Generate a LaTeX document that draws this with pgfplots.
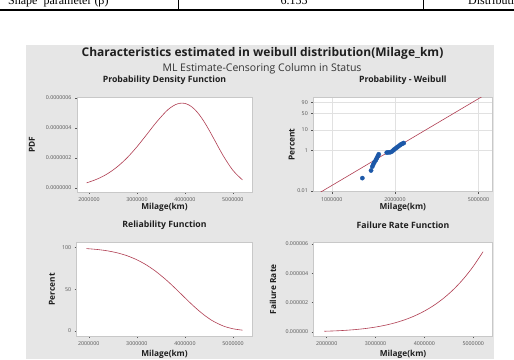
\documentclass[border=0pt]{standalone}
\usepackage{pgfplots}
\pgfplotsset{compat=1.18}
\usepackage{fontspec}
\setmainfont{Open Sans}
\newfontfamily\seriffont{Liberation Serif}
\definecolor{panel}{RGB}{230,230,230}
\definecolor{curve}{RGB}{176,62,82}
\definecolor{dotblue}{RGB}{28,88,168}
\definecolor{boxgray}{RGB}{200,200,200}
\definecolor{ticktext}{RGB}{85,85,85}
\definecolor{gridgray}{RGB}{225,225,225}
\pgfplotsset{
 mystyle/.style={
  scale only axis,
  axis background/.style={fill=white},
  axis line style={boxgray, line width=0.6pt},
  tick style={ticktext, line width=0.4pt},
  tick align=outside, major tick length=2pt,
  xtick pos=bottom, ytick pos=left,
  tick label style={font=\fontsize{5.3}{6}\selectfont, text=ticktext},
  scaled ticks=false,
  /pgf/number format/assume math mode=true,
  title style={font=\bfseries\fontsize{8.7}{9.5}\selectfont, text=black!88, anchor=center},
  xlabel style={font=\bfseries\fontsize{8.3}{9}\selectfont, text=black!88, anchor=center},
  ylabel style={font=\bfseries\fontsize{8.3}{9}\selectfont, text=black!88, anchor=center},
 }
}
\begin{document}
\begin{tikzpicture}
\useasboundingbox (0pt,0pt) rectangle (514pt,359pt);
\clip (0pt,0pt) rectangle (514pt,359pt);
\fill[panel] (26pt,0pt) rectangle (494pt,314pt);
% cropped table strip above the figure
\draw[line width=1.3pt] (0pt,349pt) -- (514pt,349pt);
\draw[line width=0.6pt] (178pt,349pt) -- (178pt,360pt);
\draw[line width=0.6pt] (423pt,349pt) -- (423pt,360pt);
\node[anchor=base west, font=\seriffont\fontsize{12}{14}\selectfont, inner sep=0] at (8pt,354.5pt) {Shape\ \ parameter (β)};
\node[anchor=base, font=\seriffont\fontsize{12}{14}\selectfont, inner sep=0] at (294pt,354.5pt) {6.155};
\node[anchor=base west, font=\seriffont\fontsize{12}{14}\selectfont, inner sep=0] at (468pt,354.5pt) {Distribution};
% titles
\node[font=\bfseries\fontsize{12}{14}\selectfont, text=black!88] at (262.5pt,305.5pt) {Characteristics estimated in weibull distribution(Milage\_km)};
\node[font=\fontsize{10.5}{12}\selectfont, text=black!80] at (262pt,290.5pt) {ML Estimate-Censoring Column in Status};

% ---- PDF
\begin{axis}[mystyle, at={(77pt,167pt)}, anchor=south west, width=175pt, height=95pt,
 xmin=1.75e6, xmax=5.4e6, ymin=-0.27e-7, ymax=6.07e-7,
 xtick={2e6,3e6,4e6,5e6}, xticklabels={2000000,3000000,4000000,5000000},
 ytick={0,2e-7,4e-7,6e-7}, yticklabels={0.0000000,0.0000002,0.0000004,0.0000006},
 title={Probability Density Function}, title style={at={(axis description cs:0.5,1.116)}},
 xlabel={Milage(km)}, xlabel style={at={(axis description cs:0.5,-0.163)}},
 ylabel={PDF}, ylabel style={at={(axis description cs:-0.257,0.5)}}]
\addplot[curve, line width=0.6pt, smooth] coordinates {
(1.95e6,3.447e-8) (2.0e6,3.918e-8) (2.2e6,6.340e-8) (2.4e6,9.769e-8) (2.6e6,1.4392e-7)
(2.8e6,2.0304e-7) (3.0e6,2.7456e-7) (3.2e6,3.5483e-7) (3.4e6,4.3648e-7) (3.6e6,5.0819e-7)
(3.7e6,5.3583e-7) (3.8e6,5.5547e-7) (3.9e6,5.6535e-7) (4.0e6,5.6411e-7) (4.1e6,5.5094e-7)
(4.2e6,5.2576e-7) (4.3e6,4.8916e-7) (4.4e6,4.4278e-7) (4.5e6,3.8903e-7) (4.6e6,3.3098e-7)
(4.8e6,2.1502e-7) (5.0e6,1.1841e-7) (5.2e6,5.378e-8)};
\end{axis}

% ---- Probability plot
\begin{axis}[mystyle, at={(313.3pt,167.3pt)}, anchor=south west, width=179pt, height=94.4pt,
 xmode=log, xmin=8.17e5, xmax=5.82e6, ymin=-9.32, ymax=1.45,
 xtick={1e6,2e6,5e6}, xticklabels={1000000,2000000,5000000}, minor xtick={},
 ytick={-9.2103,-4.6002,-2.2504,-0.36651,0.83403}, yticklabels={0.01,1,10,50,90},
 xmajorgrids, ymajorgrids, major grid style={gridgray, line width=0.4pt},
 title={Probability - Weibull}, title style={at={(axis description cs:0.5,1.116)}},
 xlabel={Milage(km)}, xlabel style={at={(axis description cs:0.5,-0.163)}},
 ylabel={Percent}, ylabel style={at={(axis description cs:-0.1207,0.5)}}]
\addplot[curve, line width=0.6pt] coordinates {(8.5e5,-9.617) (5.5e6,1.876)};
\addplot[only marks, mark=*, mark size=2.1pt, dotblue, mark options={draw=dotblue, fill=dotblue}] coordinates {
(1.399e6,-7.77) (1.539e6,-6.90) (1.561e6,-6.45) (1.578e6,-6.19) (1.596e6,-5.96)
(1.620e6,-5.73) (1.638e6,-5.51) (1.656e6,-5.28) (1.674e6,-5.05) (1.828e6,-4.86)
(1.860e6,-4.83) (1.895e6,-4.83) (1.931e6,-4.75) (1.965e6,-4.60) (1.987e6,-4.49)
(2.018e6,-4.37) (2.046e6,-4.26) (2.076e6,-4.15) (2.108e6,-4.03) (2.138e6,-3.92)
(2.169e6,-3.84) (2.203e6,-3.77)};
\end{axis}

% ---- Reliability
\begin{axis}[mystyle, at={(76.7pt,23pt)}, anchor=south west, width=175.6pt, height=93.3pt,
 xmin=1.75e6, xmax=5.4e6, ymin=-6, ymax=106,
 xtick={2e6,3e6,4e6,5e6}, xticklabels={2000000,3000000,4000000,5000000},
 ytick={0,50,100}, yticklabels={0,50,100},
 title={Reliability Function}, title style={at={(axis description cs:0.5,1.118)}},
 xlabel={Milage(km)}, xlabel style={at={(axis description cs:0.5,-0.193)}},
 ylabel={Percent}, ylabel style={at={(axis description cs:-0.1407,0.5)}}]
\addplot[curve, line width=0.6pt, smooth] coordinates {
(1.95e6,98.90) (2.0e6,98.72) (2.2e6,97.71) (2.4e6,96.11) (2.6e6,93.72) (2.8e6,90.27)
(3.0e6,85.52) (3.2e6,79.23) (3.4e6,71.31) (3.6e6,61.84) (3.7e6,56.61) (3.8e6,51.15)
(3.9e6,45.53) (4.0e6,39.88) (4.1e6,34.29) (4.2e6,28.90) (4.3e6,23.82) (4.4e6,19.15)
(4.5e6,14.98) (4.6e6,11.38) (4.8e6,5.94) (5.0e6,2.65) (5.2e6,0.98)};
\end{axis}

% ---- Failure rate
\begin{axis}[mystyle, at={(313.7pt,23pt)}, anchor=south west, width=178.6pt, height=93.3pt,
 xmin=1.734e6, xmax=5.39e6, ymin=-0.29e-6, ymax=6.09e-6,
 xtick={2e6,3e6,4e6,5e6}, xticklabels={2000000,3000000,4000000,5000000},
 ytick={0,2e-6,4e-6,6e-6}, yticklabels={0.000000,0.000002,0.000004,0.000006},
 title={Failure Rate Function}, title style={at={(axis description cs:0.5,1.118)}},
 xlabel={Milage(km)}, xlabel style={at={(axis description cs:0.5,-0.193)}},
 ylabel={Failure Rate}, ylabel style={at={(axis description cs:-0.2279,0.5)}}]
\addplot[curve, line width=0.6pt, smooth] coordinates {
(1.95e6,3.485e-8) (2.0e6,3.969e-8) (2.2e6,6.489e-8) (2.4e6,1.0164e-7) (2.6e6,1.5356e-7)
(2.8e6,2.2492e-7) (3.0e6,3.2106e-7) (3.2e6,4.4783e-7) (3.4e6,6.1206e-7) (3.6e6,8.2181e-7)
(3.8e6,1.0860e-6) (4.0e6,1.4147e-6) (4.2e6,1.8193e-6) (4.4e6,2.3123e-6) (4.6e6,2.9079e-6)
(4.8e6,3.6210e-6) (5.0e6,4.4698e-6) (5.2e6,5.4714e-6)};
\end{axis}
\end{tikzpicture}
\end{document}
